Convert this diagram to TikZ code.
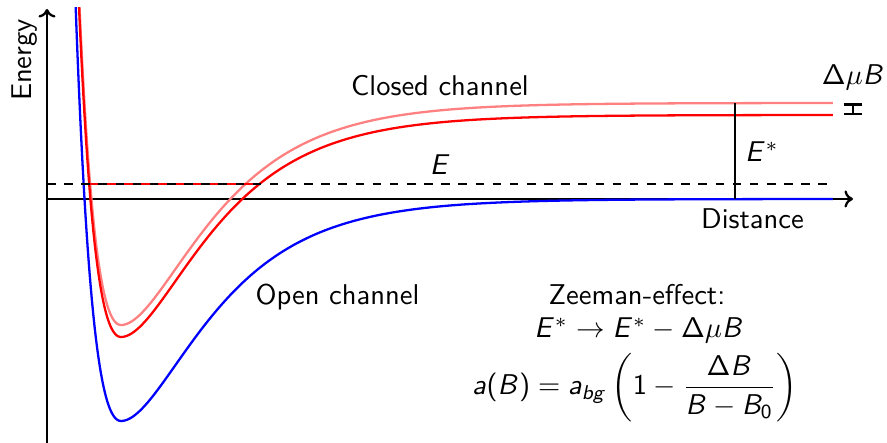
\documentclass[tikz,border=0pt]{standalone}
\usetikzlibrary{arrows.meta}
\renewcommand{\familydefault}{\sfdefault}
% sans-serif math letters and digits
\DeclareSymbolFont{sfit}{OT1}{cmss}{m}{sl}
\DeclareSymbolFont{sfup}{OT1}{cmss}{m}{n}
\DeclareMathSymbol{E}{\mathalpha}{sfit}{`E}
\DeclareMathSymbol{B}{\mathalpha}{sfit}{`B}
\DeclareMathSymbol{a}{\mathalpha}{sfit}{`a}
\DeclareMathSymbol{b}{\mathalpha}{sfit}{`b}
\DeclareMathSymbol{g}{\mathalpha}{sfit}{`g}
\DeclareMathSymbol{0}{\mathalpha}{sfup}{`0}
\DeclareMathSymbol{1}{\mathalpha}{sfup}{`1}
\DeclareMathSymbol{(}{\mathopen}{sfup}{`(}
\DeclareMathSymbol{)}{\mathclose}{sfup}{`)}
\DeclareMathSymbol{\Delta}{\mathalpha}{sfup}{1}
\definecolor{pinkc}{RGB}{255,128,128}
\begin{document}
\begin{tikzpicture}[x=0.35pt,y=-0.35pt,
  axis/.style={thick,-{To[length=3pt,width=6pt]}},
  curve/.style={thick},
  lbl/.style={anchor=base,inner sep=0pt,font=\sffamily},
  declare function={ak(\t)=(\t<121)*0.019+(\t>=121)*0.0128;
                    mo(\t)=222*(1-exp(-ak(\t)*(\t-121)))^2-222;}]
\useasboundingbox (0,0) rectangle (887,443);
% axes
\coordinate (o) at (47,199);
\coordinate (ytop) at (47,9);
\coordinate (ybot) at (47,443);
\coordinate (xend) at (853,199);
\draw[axis] (ybot) -- (ytop);
\draw[axis] (o) -- (xend);
\node[lbl,rotate=90] (energy) at (31,60) {Energy};
\node[lbl] (dist) at (752.5,229) {Distance};
% curves
\begin{scope}
\clip (47,8) rectangle (887,443);
\draw[curve,pinkc,domain=74:833,samples=500,smooth] plot ({\x},{199-(mo(\x)+96)});
\draw[curve,red,domain=74:833,samples=500,smooth] plot ({\x},{199-(mo(\x)+84)});
\draw[curve,blue,domain=72:833,samples=500,smooth] plot ({\x},{199-mo(\x)});
\end{scope}
% energy E
\coordinate (bl) at (89.2,184);
\coordinate (br) at (259,184);
\coordinate (dl) at (47,184);
\coordinate (dr) at (834,184);
\draw[thick,red] (bl) -- (br);
\draw[thick,dashed] (dl) -- (dr);
\node[lbl] (E) at (440,175) {$E$};
% E*
\coordinate (es1) at (735,103);
\coordinate (es2) at (735,199);
\draw[thick] (es1) -- (es2);
\node[lbl] (Es) at (762,161.7) {$E^*$};
% Delta mu B bracket
\coordinate (b1) at (853,103.3);
\coordinate (b2) at (853,115.3);
\draw[thick,{Bar[width=6.6pt]}-{Bar[width=6.6pt]}] (b1) -- (b2);
\node[lbl] (dmb) at (853,85) {$\Delta\mu B$};
% labels
\node[lbl] (closed) at (440,95.7) {Closed channel};
\node[lbl] (open) at (337.5,305) {Open channel};
\node[lbl] (zee) at (637,305) {Zeeman-effect:};
\node[lbl] (zee2) at (639,338) {$E^*\to E^*-\Delta\mu B$};
\node[lbl] (scat) at (635,395) {$\displaystyle a(B)=a_{bg}\left(1-\frac{\Delta B}{B-B_0}\right)$};
\end{tikzpicture}
\end{document}
